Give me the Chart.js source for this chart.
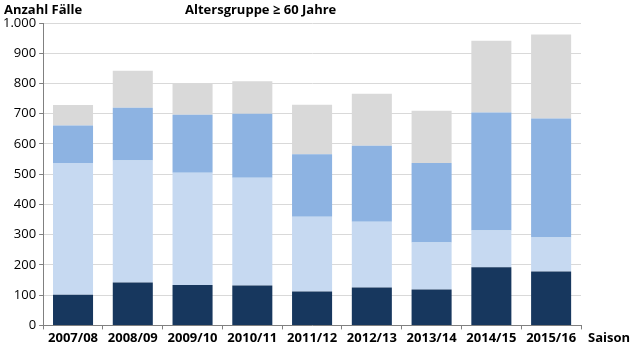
<!DOCTYPE html>
<html><head><meta charset="utf-8">
<script src="https://cdn.jsdelivr.net/npm/chart.js@4"></script>
<style>html,body{margin:0;padding:0;background:#fff}#wrap{width:633px;height:351px;position:relative}</style>
</head><body><div id="wrap"><canvas id="c" width="633" height="351"></canvas></div>
<script>
const seasons = ["2007/08","2008/09","2009/10","2010/11","2011/12","2012/13","2013/14","2014/15","2015/16"];
const serieDunkel = [101,142,134,132,112,125,119,192,178];
const serieHell   = [436,403,371,356,247,218,155,122,113];
const serieMittel = [124,175,192,212,207,251,263,390,393];
const serieGrau   = [68,122,105,107,164,172,173,237,278];
const yTicks = [0,100,200,300,400,500,600,700,800,900,1000];
const yLabel = "Anzahl Fälle";
const titleText = "Altersgruppe ≥ 60 Jahre";
const xLabel = "Saison";

const FONT = "'Open Sans', 'DejaVu Sans', sans-serif";
const textPlugin = {
  id:'texts',
  afterDraw(chart){
    const ctx = chart.ctx;
    ctx.save();
    ctx.fillStyle = '#000';
    ctx.font = "bold 13px " + FONT;
    ctx.textBaseline = 'middle';
    ctx.textAlign = 'left';
    ctx.fillText(yLabel, 4, 10);
    ctx.fillText(titleText, 185, 10);
    ctx.fillText(xLabel, 588, 338);
    ctx.restore();
  }
};

new Chart(document.getElementById('c'), {
  type:'bar',
  data:{
    labels: seasons,
    datasets:[
      {label:'Serie 1', data:serieDunkel, backgroundColor:'#17375e'},
      {label:'Serie 2', data:serieHell, backgroundColor:'#c6d9f1'},
      {label:'Serie 3', data:serieMittel, backgroundColor:'#8db3e2'},
      {label:'Serie 4', data:serieGrau, backgroundColor:'#d9d9d9'}
    ]
  },
  options:{
    responsive:false,
    animation:false,
    locale:'de-DE',
    layout:{padding:{top:23,right:52,bottom:4,left:0}},
    plugins:{legend:{display:false},tooltip:{enabled:false},title:{display:false}},
    datasets:{bar:{barPercentage:0.67,categoryPercentage:1.0}},
    scales:{
      x:{
        stacked:true,
        grid:{drawOnChartArea:false,drawTicks:true,tickLength:4,color:'#808080',offset:true},
        border:{display:true,color:'#808080'},
        ticks:{color:'#000',font:{family:FONT,size:13,weight:'bold'},padding:1,maxRotation:0,autoSkip:false}
      },
      y:{
        stacked:true,
        min:0,max:1000,
        afterBuildTicks(scale){ scale.ticks = yTicks.map(v=>({value:v})); },
        grid:{color:'#d9d9d9',tickLength:4,tickColor:'#808080'},
        border:{display:true,color:'#808080'},
        ticks:{color:'#000',font:{family:FONT,size:13},padding:3}
      }
    }
  },
  plugins:[textPlugin]
});
</script></body></html>
